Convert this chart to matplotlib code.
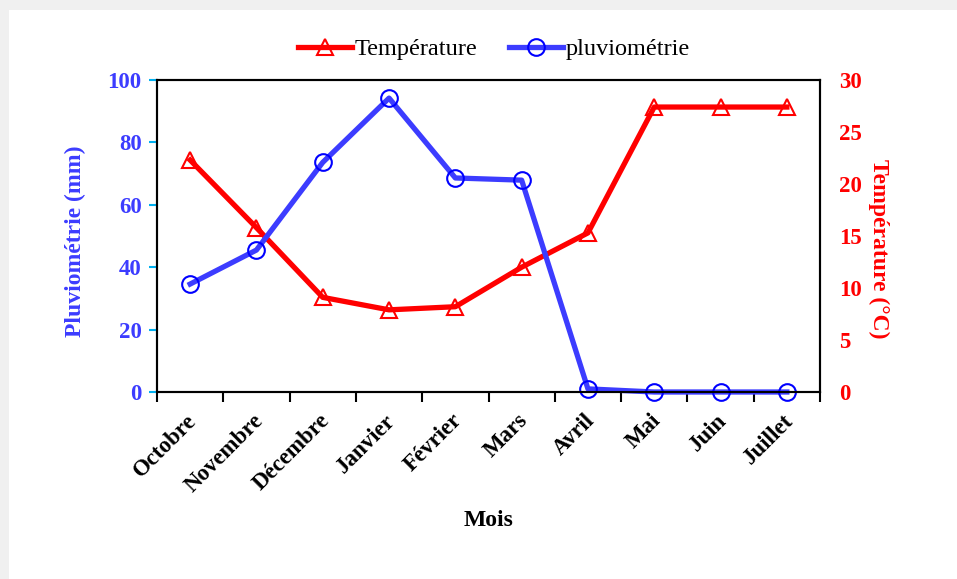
import matplotlib
import matplotlib.pyplot as plt
from matplotlib.patches import Rectangle

plt.rcParams['font.family'] = ['Liberation Serif', 'DejaVu Serif']

mois = ['Octobre', 'Novembre', 'Décembre', 'Janvier', 'Février', 'Mars',
        'Avril', 'Mai', 'Juin', 'Juillet']
pluviometrie = [34.6, 45.5, 73.6, 94.2, 68.6, 67.9, 1.0, 0.0, 0.0, 0.0]
temperature = [22.3, 15.8, 9.1, 7.9, 8.2, 12.0, 15.3, 27.4, 27.4, 27.4]

BLUE = '#3c3cff'
RED = '#ff0000'

fig = plt.figure(figsize=(9.57, 5.79), dpi=100)
fig.patch.set_facecolor('#f0f0f0')
fig.patches.append(Rectangle((9 / 957, 0), 1, 1 - 10 / 579, transform=fig.transFigure,
                             facecolor='white', edgecolor='none', zorder=-10))

ax = fig.add_axes([157 / 957, 1 - 392 / 579, 663 / 957, 312 / 579])
ax2 = ax.twinx()

x = list(range(len(mois)))
l2, = ax2.plot(x, temperature, color=RED, lw=3.8, marker='^', markersize=12,
               markerfacecolor='none', markeredgecolor=RED, markeredgewidth=1.5,
               label='Température')
l1, = ax.plot(x, pluviometrie, color=BLUE, lw=3.8, marker='o', markersize=12,
              markerfacecolor='none', markeredgecolor='#0000ff', markeredgewidth=1.5,
              label='pluviométrie', clip_on=False)
ax.set_zorder(ax2.get_zorder() + 1)
ax.patch.set_visible(False)

ax.set_xlim(-0.5, len(mois) - 0.5)
ax.set_ylim(0, 100)
ax2.set_ylim(0, 30)
ax.set_yticks(range(0, 101, 20))
ax2.set_yticks(range(0, 31, 5))

# x ticks between categories, labels at the centres
ax.set_xticks([i - 0.5 for i in range(len(mois) + 1)])
ax.set_xticklabels([])
ax.set_xticks([i - 0.06 for i in x], minor=True)
ax.set_xticklabels(mois, minor=True, rotation=45, ha='right', rotation_mode='anchor',
                   fontsize=16.5, fontweight='bold')
ax.tick_params(axis='x', which='major', direction='out', length=7, width=1.5, color='black')
ax.tick_params(axis='x', which='minor', length=0, pad=13)

ax.tick_params(axis='y', direction='out', length=6, width=1.5, color='#00b0f0',
               labelcolor=BLUE, labelsize=16.5, pad=5)
for t in ax.get_yticklabels():
    t.set_fontweight('bold')
ax2.tick_params(axis='y', length=0, labelcolor=RED, labelsize=16.5, pad=14)
for t in ax2.get_yticklabels():
    t.set_fontweight('bold')

for a in (ax, ax2):
    for s in a.spines.values():
        s.set_linewidth(1.5)
        s.set_color('black')

ax.set_ylabel('Pluviométrie (mm)', color=BLUE, fontsize=17, fontweight='bold')
ax.yaxis.set_label_coords(-0.107, 0.484)
ax2.set_ylabel('Température (°C)', color=RED, fontsize=17, fontweight='bold',
               rotation=270, va='bottom')
ax2.yaxis.set_label_coords(1.072, 0.46)
ax.set_xlabel('Mois', fontsize=17, fontweight='bold', labelpad=10)

fig.legend(handles=[l2, l1], loc='center', bbox_to_anchor=(494 / 957, 1 - 49 / 579),
           ncol=2, frameon=False, fontsize=17.5, handlelength=2.2, columnspacing=1.3,
           handletextpad=0.12)

fig.savefig('out.png', dpi=100, facecolor=fig.get_facecolor())
